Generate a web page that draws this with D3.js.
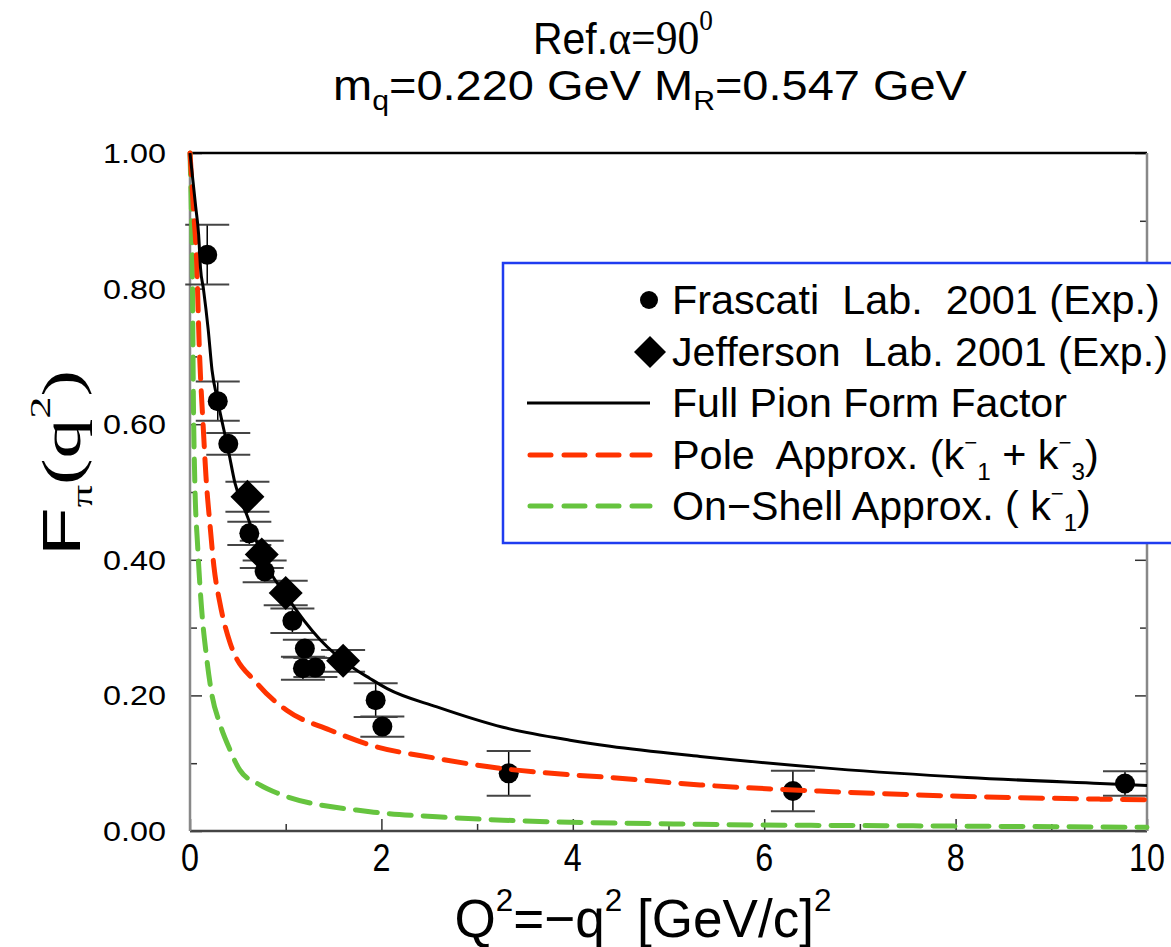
<!DOCTYPE html>
<html>
<head>
<meta charset="utf-8">
<script src="https://cdn.jsdelivr.net/npm/d3@7"></script>
<style>
  html, body { margin: 0; padding: 0; background: #fff; }
  svg { display: block; }
  text { font-family: "Liberation Sans", Arial, Helvetica, sans-serif; white-space: pre; fill: #000; }
</style>
</head>
<body>
<svg id="chart" width="1171" height="947"></svg>
<script>
// ---- Experimental data: Q^2 [GeV/c]^2, F_pi, symmetric error ----
const frascatiQ2  = [0.18, 0.29, 0.40, 0.62, 0.78, 1.07, 1.20, 1.18, 1.31, 1.94, 2.01, 3.33, 6.30, 9.77];
const frascatiF   = [0.850, 0.634, 0.571, 0.439, 0.383, 0.310, 0.269, 0.240, 0.241, 0.193, 0.154, 0.085, 0.059, 0.070];
const frascatiErr = [0.044, 0.029, 0.016, 0.017, 0.016, 0.018, 0.013, 0.017, 0.014, 0.025, 0.015, 0.033, 0.030, 0.018];

const jlabQ2  = [0.60, 0.75, 1.00, 1.60];
const jlabF   = [0.493, 0.408, 0.351, 0.251];
const jlabErr = [0.022, 0.020, 0.018, 0.016];

// ---- Model curves ----
const fullQ2 = [0, 0.03, 0.06, 0.09, 0.11, 0.14, 0.19, 0.23, 0.29, 0.40, 0.47, 0.60, 0.77, 1.01, 1.36, 1.71, 1.88, 2.06, 2.58, 3.27, 3.97, 4.39, 5.33, 6.72, 8.12, 9.51, 10];
const fullF  = [1.0, 0.96, 0.92, 0.88, 0.83, 0.80, 0.74, 0.68, 0.634, 0.562, 0.513, 0.464, 0.400, 0.346, 0.282, 0.240, 0.225, 0.210, 0.183, 0.153, 0.134, 0.125, 0.110, 0.092, 0.079, 0.070, 0.067];

const poleQ2 = [0, 0.035, 0.07, 0.097, 0.14, 0.167, 0.21, 0.25, 0.31, 0.42, 0.70, 1.01, 1.46, 1.88, 2.58, 3.27, 3.97, 4.39, 5.33, 6.72, 8.12, 9.51, 10];
const poleF  = [1.0, 0.92, 0.837, 0.714, 0.591, 0.523, 0.45, 0.39, 0.338, 0.277, 0.218, 0.178, 0.149, 0.127, 0.107, 0.092, 0.083, 0.079, 0.068, 0.058, 0.051, 0.047, 0.046];

const shellQ2 = [0, 0.012, 0.024, 0.035, 0.049, 0.08, 0.12, 0.17, 0.23, 0.31, 0.42, 0.52, 0.73, 0.91, 1.88, 2.58, 3.27, 5.33, 7.76, 10];
const shellF  = [1.0, 0.93, 0.837, 0.641, 0.523, 0.42, 0.33, 0.26, 0.20, 0.159, 0.119, 0.090, 0.068, 0.056, 0.0285, 0.021, 0.016, 0.0099, 0.0074, 0.0055];

// ---- Axis ticks ----
const xMajor = [0, 2, 4, 6, 8, 10];
const xMinor = [1, 3, 5, 7, 9];
const xTickLabels = ["0", "2", "4", "6", "8", "10"];
const yMajor = [0, 0.2, 0.4, 0.6, 0.8, 1.0];
const yMinor = [0.1, 0.3, 0.5, 0.7, 0.9];
const yTickLabels = ["0.00", "0.20", "0.40", "0.60", "0.80", "1.00"];

// ---- Legend ----
const legendLabels = [
  "Frascati  Lab.  2001 (Exp.)",
  "Jefferson  Lab. 2001 (Exp.)",
  "Full Pion Form Factor",
  "Pole  Approx. (k\u207B1 + k\u207B3)",
  "On\u2212Shell Approx. ( k\u207B1)"
];

const RED = "#ff3300", GREEN = "#66c43f", BLUE = "#1f3cf0";

const svg = d3.select("#chart");
const x = d3.scaleLinear().domain([0, 10]).range([190, 1147]);
const y = d3.scaleLinear().domain([0, 1]).range([831, 153]);

// Text helper: rich text made of tspans, optionally stretched horizontally
// to a given width (o.width) or by a fixed factor (o.sx).
function richText(parent, o) {
  const g = parent.append("g")
    .attr("transform", `translate(${o.x},${o.y})` + (o.rotate ? ` rotate(${o.rotate})` : ""));
  const t = g.append("text").attr("font-size", o.size).attr("text-anchor", o.anchor || "middle");
  if (o.family) t.attr("font-family", o.family);
  let shift = 0;
  o.parts.forEach(p => {
    const ts = t.append("tspan").text(p.t);
    const target = p.shift || 0;
    if (target - shift) ts.attr("dy", target - shift);
    shift = target;
    if (p.size) ts.attr("font-size", p.size);
    if (p.family) ts.attr("font-family", p.family);
    if (p.dx) ts.attr("dx", p.dx);
  });
  if (o.width) {
    const w = t.node().getBBox().width;
    t.attr("transform", `scale(${o.width / w},1)`);
  } else if (o.sx) {
    t.attr("transform", `scale(${o.sx},1)`);
  }
  return g;
}

// Splits "k⁻1" style notation into tspans (bar raised, index lowered).
function kParts(label) {
  const parts = [];
  const segs = label.split("\u207B");
  parts.push({ t: segs[0] });
  for (let i = 1; i < segs.length; i++) {
    parts.push({ t: "\u2212", size: 22, shift: -19 });
    parts.push({ t: segs[i][0], size: 24, shift: 11 });
    parts.push({ t: segs[i].slice(1), shift: 0 });
  }
  return parts;
}

// ---- Ticks (inside the frame) ----
function ticks(axisGen, transform, vals, len) {
  svg.append("g").attr("transform", transform)
    .call(axisGen.tickValues(vals).tickSize(-len).tickFormat(""))
    .call(g => g.select(".domain").remove())
    .call(g => g.selectAll("line").attr("stroke", "#333").attr("stroke-width", 1.5));
}
ticks(d3.axisBottom(x), "translate(0,831)", xMajor, 12);
ticks(d3.axisBottom(x), "translate(0,831)", xMinor, 7);
ticks(d3.axisLeft(y), "translate(190,0)", yMajor, 12);
ticks(d3.axisLeft(y), "translate(190,0)", yMinor, 7);
ticks(d3.axisRight(y), "translate(1147,0)", yMajor, 12);
ticks(d3.axisRight(y), "translate(1147,0)", yMinor, 7);

// ---- Frame ----
svg.append("line").attr("x1", 190).attr("x2", 1147).attr("y1", 153).attr("y2", 153).attr("stroke", "#000").attr("stroke-width", 2.5);
svg.append("line").attr("x1", 190).attr("x2", 1147).attr("y1", 831).attr("y2", 831).attr("stroke", "#444").attr("stroke-width", 2.5);
svg.append("line").attr("x1", 190).attr("x2", 190).attr("y1", 153).attr("y2", 831).attr("stroke", "#888").attr("stroke-width", 2.5);
svg.append("line").attr("x1", 1147).attr("x2", 1147).attr("y1", 153).attr("y2", 831).attr("stroke", "#888").attr("stroke-width", 2.5);

// ---- Tick labels ----
xMajor.forEach((v, i) => richText(svg, { x: x(v), y: 871, size: 38, sx: 0.85, parts: [{ t: xTickLabels[i] }] }));
yMajor.forEach((v, i) => richText(svg, { x: 166, y: y(v) + 10, size: 28, anchor: "end", width: 63, parts: [{ t: yTickLabels[i] }] }));

// ---- Error bars ----
function errorBars(qs, fs, es) {
  const g = svg.append("g");
  qs.forEach((q, i) => {
    const cx = x(q), lo = y(fs[i] - es[i]), hi = y(fs[i] + es[i]);
    g.append("line").attr("x1", cx).attr("x2", cx).attr("y1", lo).attr("y2", hi).attr("stroke", "#000").attr("stroke-width", 1.5);
    [lo, hi].forEach(yy => g.append("line").attr("x1", cx - 22).attr("x2", cx + 22).attr("y1", yy).attr("y2", yy)
      .attr("stroke", "#444").attr("stroke-width", 2));
  });
}
errorBars(frascatiQ2, frascatiF, frascatiErr);
errorBars(jlabQ2, jlabF, jlabErr);

// ---- Markers ----
svg.append("g").selectAll("circle").data(frascatiQ2).join("circle")
  .attr("cx", d => x(d)).attr("cy", (d, i) => y(frascatiF[i])).attr("r", 10).attr("fill", "#000");
svg.append("g").selectAll("path").data(jlabQ2).join("path")
  .attr("d", (d, i) => {
    const cx = x(d), cy = y(jlabF[i]), h = 17;
    return `M${cx},${cy - h}L${cx + h},${cy}L${cx},${cy + h}L${cx - h},${cy}Z`;
  })
  .attr("fill", "#000");

// ---- Curves ----
const line = d3.line().x(d => x(d[0])).y(d => y(d[1])).curve(d3.curveMonotoneX);
const zip = (a, b) => a.map((v, i) => [v, b[i]]);
svg.append("path").datum(zip(shellQ2, shellF)).attr("d", line)
  .attr("fill", "none").attr("stroke", GREEN).attr("stroke-width", 5)
  .attr("stroke-dasharray", "22,12").attr("stroke-linecap", "round");
svg.append("path").datum(zip(poleQ2, poleF)).attr("d", line)
  .attr("fill", "none").attr("stroke", RED).attr("stroke-width", 5)
  .attr("stroke-dasharray", "22,12").attr("stroke-linecap", "round");
svg.append("path").datum(zip(fullQ2, fullF)).attr("d", line)
  .attr("fill", "none").attr("stroke", "#000").attr("stroke-width", 3);

// ---- Legend ----
svg.append("rect").attr("x", 503).attr("y", 263).attr("width", 700).attr("height", 280)
  .attr("fill", "#fff").attr("stroke", BLUE).attr("stroke-width", 2.5);
const rowY = [300, 352, 403, 455, 506];
const textW = [488, 496, 395, 427, 419];
svg.append("circle").attr("cx", 649).attr("cy", rowY[0]).attr("r", 9).attr("fill", "#000");
svg.append("path").attr("d", `M650,${rowY[1] - 16}L666,${rowY[1]}L650,${rowY[1] + 16}L634,${rowY[1]}Z`).attr("fill", "#000");
svg.append("line").attr("x1", 527).attr("x2", 650).attr("y1", rowY[2]).attr("y2", rowY[2]).attr("stroke", "#000").attr("stroke-width", 3);
[[RED, 3], [GREEN, 4]].forEach(([c, r]) =>
  svg.append("line").attr("x1", 530).attr("x2", 650).attr("y1", rowY[r]).attr("y2", rowY[r])
    .attr("stroke", c).attr("stroke-width", 5).attr("stroke-dasharray", "21,13").attr("stroke-linecap", "round"));
legendLabels.forEach((lab, i) =>
  richText(svg, { x: 672, y: rowY[i] + 14, size: 41, anchor: "start", width: textW[i], parts: kParts(lab) }));

// ---- Titles ----
richText(svg, { x: 623, y: 54, size: 45, width: 180, parts: [
  { t: "Ref." },
  { t: "\u03B1=90", family: "Liberation Serif", size: 48 },
  { t: "0", family: "Liberation Serif", size: 30, shift: -24 }
]});
richText(svg, { x: 650, y: 100, size: 42, width: 634, parts: [
  { t: "m" }, { t: "q", size: 27, shift: 10 },
  { t: "=0.220 GeV M", shift: 0 }, { t: "R", size: 27, shift: 10 },
  { t: "=0.547 GeV", shift: 0 }
]});

// ---- Axis titles ----
richText(svg, { x: 643, y: 937, size: 54, width: 377, parts: [
  { t: "Q" }, { t: "2", size: 32, shift: -26 },
  { t: "=\u2212q", shift: 0 }, { t: "2", size: 32, shift: -26 },
  { t: " [GeV/c]", shift: 0 }, { t: "2", size: 32, shift: -26 }
]});
richText(svg, { x: 80, y: 556, rotate: -90, size: 54, anchor: "start", width: 186, parts: [
  { t: "F" }, { t: "\u03C0", size: 30, shift: 12, family: "Liberation Serif" },
  { t: "(q", shift: 0, family: "Liberation Serif" },
  { t: "2", size: 30, shift: -30, family: "Liberation Serif" },
  { t: ")", shift: 0, family: "Liberation Serif" }
]});
</script>
</body>
</html>
